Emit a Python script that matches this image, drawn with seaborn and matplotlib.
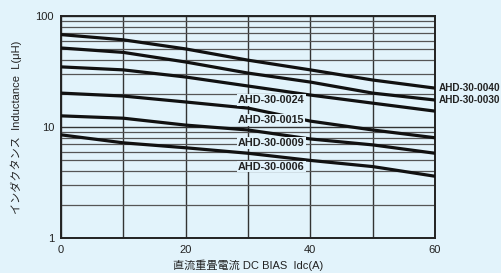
import numpy as np
import pandas as pd
import matplotlib
matplotlib.use("Agg")
import matplotlib.pyplot as plt
import seaborn as sns

# DC bias current (A)
current = [0, 10, 20, 30, 40, 50, 60]

# inductance (uH) per part number
l_0040 = [68, 61, 50.5, 40, 32.7, 26.5, 22.4]
l_0030 = [51.5, 47, 38.5, 30.6, 25.4, 20.2, 17.5]
l_0024 = [34.8, 32.7, 28.2, 23.4, 19.4, 16.4, 13.9]
l_0015 = [20.2, 19.0, 16.8, 14.8, 11.3, 9.4, 8.0]
l_0009 = [12.6, 12.0, 10.4, 9.4, 7.8, 6.9, 5.8]
l_0006 = [8.5, 7.2, 6.5, 5.8, 5.0, 4.4, 3.6]

parts = ["AHD-30-0040", "AHD-30-0030", "AHD-30-0024",
         "AHD-30-0015", "AHD-30-0009", "AHD-30-0006"]
series = [l_0040, l_0030, l_0024, l_0015, l_0009, l_0006]

x_ticks = [0, 20, 40, 60]

BG = "#e2f3fb"

rows = []
for name, vals in zip(parts, series):
    for x, v in zip(current, vals):
        rows.append({"Idc": x, "L": v, "part": name})
df = pd.DataFrame(rows)

sns.set_style("white")
plt.rcParams["font.family"] = ["Liberation Sans", "Noto Sans CJK JP", "DejaVu Sans"]

fig = plt.figure(figsize=(5.01, 2.73), dpi=100, facecolor=BG)
ax = fig.add_axes([0.1218, 0.1282, 0.7465, 0.8132])
ax.set_facecolor(BG)

ax.set_yscale("log")
ax.set_xlim(0, 60)
ax.set_ylim(1, 100)

# grid
ax.grid(True, which="major", axis="both", color="#333333", linewidth=1.0)
ax.grid(True, which="minor", axis="y", color="#555555", linewidth=0.9)

sns.lineplot(data=df, x="Idc", y="L", hue="part",
             palette=["#111111"] * len(parts), linewidth=2.3,
             legend=False, ax=ax, zorder=3)

ax.set_xticks(x_ticks)
ax.set_xticklabels([str(t) for t in x_ticks])
ax.set_xticks(range(0, 61, 10), minor=True)
ax.grid(True, which="minor", axis="x", color="#333333", linewidth=1.0)
ax.set_yticks([1, 10, 100])
ax.set_yticklabels(["1", "10", "100"])
ax.tick_params(axis="both", which="both", length=0, labelsize=8, colors="#222222", pad=5)

for s in ax.spines.values():
    s.set_color("#222222")
    s.set_linewidth(1.4)

ax.set_xlabel("直流重畳電流 DC BIAS  Idc(A)", fontsize=8, color="#222222", labelpad=3)
ax.set_ylabel("インダクタンス  Inductance  L(μH)", fontsize=8, color="#222222", labelpad=10)

# in-plot labels
inner = {"AHD-30-0024": 17.5, "AHD-30-0015": 11.5,
         "AHD-30-0009": 7.2, "AHD-30-0006": 4.4}
for name, yv in inner.items():
    ax.text(28.4, yv, name, fontsize=7.8, fontweight="bold", color="#222222",
            va="center", ha="left", zorder=4,
            bbox=dict(facecolor=BG, edgecolor="none", pad=0.6))

# right side labels
for name, yv in [("AHD-30-0040", 22.6), ("AHD-30-0030", 17.4)]:
    ax.text(60.6, yv, name, fontsize=7.2, fontweight="bold", color="#222222",
            va="center", ha="left", clip_on=False)

fig.savefig("out.png", dpi=100, facecolor=BG)
